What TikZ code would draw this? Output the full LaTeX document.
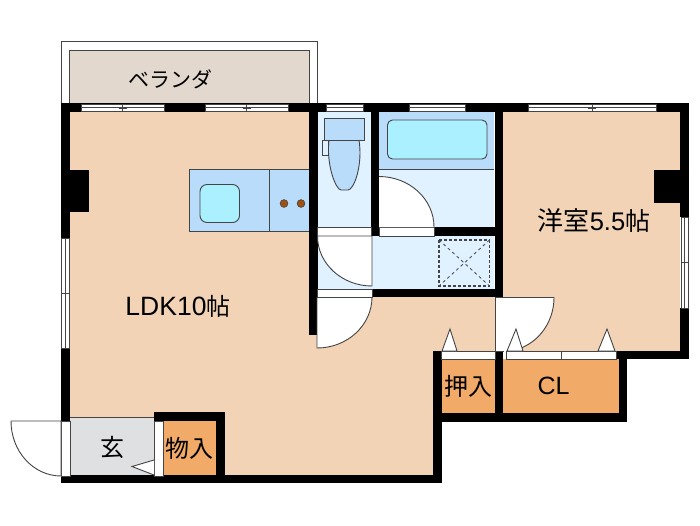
\documentclass[tikz,border=0pt]{standalone}
\usepackage{fontspec}
\setmainfont{Liberation Sans}
\newfontfamily\cjk{Noto Sans CJK JP}
\definecolor{floorc}{HTML}{F2D3B6}
\definecolor{verc}{HTML}{E3D8CE}
\definecolor{wetc}{HTML}{E0F1FF}
\definecolor{fixc}{HTML}{B9DCFB}
\definecolor{tubc}{HTML}{AAF0FF}
\definecolor{clc}{HTML}{F2AA68}
\definecolor{genc}{HTML}{DFE0E2}
\definecolor{linec}{HTML}{444444}
\definecolor{burnerc}{HTML}{A0500F}
\tikzset{
 wall/.style={fill=black,draw=none},
 thin line/.style={draw=linec,line width=0.9pt},
 strip/.style={fill=white,draw=linec,line width=0.8pt},
 doorleaf/.style={fill=white,draw=linec,line width=0.9pt},
 fixture/.style={fill=fixc,draw=linec,line width=0.9pt},
 water/.style={fill=tubc,draw=linec,line width=0.9pt,rounded corners=5pt},
 biglabel/.style={inner sep=0pt,text=black,font=\fontsize{26.5}{26.5}\selectfont},
 cjklabel/.style={inner sep=0pt,text=black,font=\fontsize{24}{24}\selectfont\cjk},
}
\newcommand{\bigcjk}[2][25]{{\fontsize{#1}{#1}\selectfont\cjk #2}}
\begin{document}
\begin{tikzpicture}[x=1pt,y=-1pt]
\useasboundingbox (0,0) rectangle (700,525);
\fill[white] (0,0) rectangle (700,525);
% veranda
\draw[thin line,fill=white] (61.5,103) -- (61.5,41.5) -- (317,41.5) -- (317,103);
\draw[thin line,fill=verc] (69.5,103) -- (69.5,50) -- (309,50) -- (309,103);
% floors
\fill[floorc] (70,112) -- (309,112) -- (309,297) -- (495,297) -- (495,351) -- (433,351) -- (433,475) -- (225,475) -- (225,412) -- (154,412) -- (154,417) -- (70,417) -- cycle;
\fill[floorc] (503,112) rectangle (680,351);
\fill[wetc] (317,112) rectangle (371,227);
\fill[wetc] (379,169) rectangle (494,227);
\fill[wetc] (317,236) rectangle (494,289);
\fill[genc] (70,418) rectangle (154,475);
\draw[thin line] (70,417.5) -- (154,417.5);
\fill[clc] (163,421) rectangle (216,475);
\fill[clc] (442,359) rectangle (495,413);
\fill[clc] (503,359) rectangle (619,413);
% bath
\fill[fixc] (379,112) rectangle (494,169);
\draw[thin line] (379,169.5) -- (494,169.5);
\draw[water] (387.5,120) rectangle (487,159);
% toilet
\draw[fixture] (329,140) .. controls (326,165) and (336,190) .. (341,190) -- (348,190) .. controls (354,190) and (363,165) .. (359,140) -- cycle;
\draw[fixture,fill=wetc] (322.5,140.5) rectangle (328.5,155);
\draw[fixture] (324.5,118) rectangle (364,140);
% kitchen
\fill[fixc] (189.5,169.5) rectangle (309,231.5);
\draw[thin line] (309,169.5) -- (189.5,169.5) -- (189.5,231.5) -- (309,231.5) (269.5,169.5) -- (269.5,231.5);
\draw[water,rounded corners=7pt] (200,184.5) rectangle (239.5,222.5);
\foreach \bx in {284,301} \draw[fill=burnerc,draw=linec,line width=0.6pt] (\bx,203.5) circle (3.9);
% laundry pan
\draw[linec,line width=1.1pt,densely dashed] (439,240) rectangle (489.5,286);
\draw[linec,line width=0.8pt,dashed] (439,240) -- (489.5,286) (489.5,240) -- (439,286);
% walls
\fill[wall] (61,103) rectangle (689,112);
\fill[wall] (61,103) rectangle (70,238);
\fill[wall] (70,170) rectangle (89,212);
\fill[wall] (61,348) rectangle (70,421);
\fill[wall] (309,103) rectangle (317.5,335);
\fill[wall] (371,103) rectangle (379,236);
\fill[wall] (494.5,103) rectangle (503,297);
\fill[wall] (434,227) rectangle (495,236);
\fill[wall] (372,289) rectangle (503,297);
\fill[wall] (680,103) rectangle (689,217);
\fill[wall] (680,308) rectangle (689,359);
\fill[wall] (654,170) rectangle (680,203);
\fill[wall] (616,351) rectangle (689,359);
\fill[wall] (619,351) rectangle (627,422);
\fill[wall] (433,351) rectangle (442,483);
\fill[wall] (495,351) rectangle (503,422);
\fill[wall] (433,413) rectangle (627,422);
\fill[wall] (61,475) rectangle (442,483);
\fill[wall] (154,412) rectangle (225,421);
\fill[wall] (216,412) rectangle (225,483);
% top windows
\foreach \xa/\xb in {81/164,205/288,326/363,409/465,528/656}{
 \draw[strip] (\xa,104) rectangle (\xb,111.5);
 \draw[linec,line width=0.8pt] (\xa,107) -- (\xb,107);
}
\foreach \xm in {122.5,246.5,592}{
 \draw[linec,line width=0.8pt] (\xm,104) -- (\xm,111.5) (\xm-4,107) -- (\xm+4,107);
 \draw[linec,line width=0.8pt] (\xm-4,108.6) -- (\xm+4,108.6);
}
% side windows
\foreach \ya/\yb/\xl in {238/348/61.5,217/308/681}{
 \draw[strip] (\xl,\ya) rectangle (\xl+7.5,\yb);
 \draw[linec,line width=0.8pt] (\xl+3.5,\ya) -- (\xl+3.5,\yb);
}
\foreach \ym/\xl in {293/61.5,262/681}{
 \draw[linec,line width=0.8pt] (\xl,\ym) -- (\xl+7.5,\ym) (\xl+3.5,\ym-4) -- (\xl+3.5,\ym+4);
}
% door strips
\draw[strip] (317,227.5) rectangle (371.5,236);
\draw[strip] (379,227.5) rectangle (434,236);
\draw[strip] (495,297) rectangle (503,351);
\draw[strip] (61.5,421) rectangle (70,476);
\draw[strip] (154.5,421) rectangle (163,476);
\draw[strip] (441,351.5) rectangle (495,359);
\draw[strip] (506.5,351.5) rectangle (616,359);
\draw[linec,line width=0.8pt] (561,351.5) -- (561,359);
% door leaves
\fill[white] (379,176.5) arc[start angle=270,end angle=360,x radius=55,y radius=50.5] -- (379,227) -- cycle;
\draw[thin line] (379,176.5) arc[start angle=270,end angle=360,x radius=55,y radius=50.5];
\draw[doorleaf] (372,286) -- (372,236) -- (317.5,236) arc[start angle=180,end angle=90,x radius=54.5,y radius=50] -- cycle;
\draw[doorleaf] (372,297) -- (317,297) -- (317,348) arc[start angle=90,end angle=0,x radius=55,y radius=51];
\draw[strip] (317,289) rectangle (372,297);
\fill[white] (503,297) -- (554,297) arc[start angle=0,end angle=90,x radius=51,y radius=54] -- cycle;
\draw[thin line] (503,297.5) -- (554,297.5) arc[start angle=0,end angle=68,x radius=51,y radius=54];
\draw[doorleaf] (61,421) -- (11,421) arc[start angle=180,end angle=90,x radius=50,y radius=55] -- cycle;
% triangles
\foreach \ax/\bl/\br in {450/442/457,516/507/523,607/598/615}
 \draw[doorleaf] (\ax,329) -- (\br,351) -- (\bl,351) -- cycle;
\draw[doorleaf] (154,460) -- (132,466.5) -- (154,475);
% labels
\node[cjklabel,font=\fontsize{21}{21}\selectfont\cjk] (veranda) at (170.5,79) {ベランダ};
\node[biglabel] (ldk) at (178,306) {LDK10\bigcjk[24]{帖}};
\node[biglabel,font=\fontsize{25.5}{25.5}\selectfont] (yoshitsu) at (594,221) {\bigcjk[26]{洋室}5.5\bigcjk[25]{帖}};
\node[cjklabel] (oshiire) at (468.5,386) {押入};
\node[biglabel,font=\fontsize{25}{25}\selectfont] (cl) at (553.5,386) {CL};
\node[cjklabel] (genkan) at (112,447.5) {玄};
\node[cjklabel] (monoire) at (189.5,448) {物入};
\end{tikzpicture}
\end{document}
